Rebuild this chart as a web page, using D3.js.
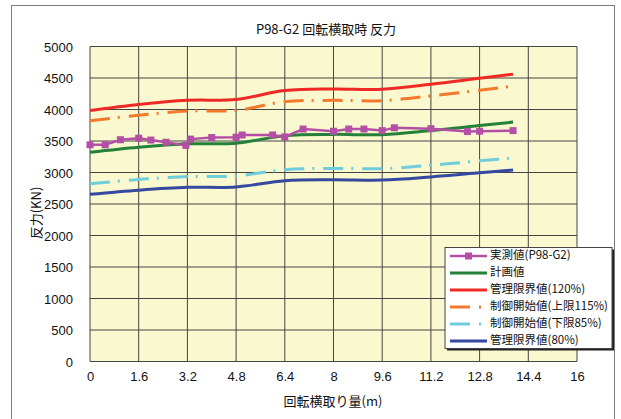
<!DOCTYPE html>
<html><head><meta charset="utf-8">
<script src="https://cdn.jsdelivr.net/npm/d3@7"></script>
<style>
html,body{margin:0;padding:0;background:#fff;overflow:hidden;}
svg{display:block;}
text{font-family:"Liberation Sans","Noto Sans CJK JP",sans-serif;fill:#111;}
.cjk{font-family:"Noto Sans CJK JP",sans-serif;}
</style></head>
<body>
<script>
// ---- data ----
const title = "P98-G2 回転横取時 反力";
const xTitle = "回転横取り量(m)";
const yTitle = "反力(KN)";
const xTicks = [0, 1.6, 3.2, 4.8, 6.4, 8, 9.6, 11.2, 12.8, 14.4, 16];
const yTicks = [0, 500, 1000, 1500, 2000, 2500, 3000, 3500, 4000, 4500, 5000];

const measX = [0, 0.5, 1.0, 1.6, 2.0, 2.5, 3.15, 3.3, 4.0, 4.8, 5.0, 6.0, 6.4, 7.0, 8.0, 8.5, 9.0, 9.6, 10.0, 11.2, 12.4, 12.8, 13.9];
const measY = [3440, 3440, 3520, 3545, 3515, 3480, 3430, 3530, 3555, 3560, 3595, 3595, 3565, 3690, 3655, 3690, 3690, 3665, 3710, 3695, 3650, 3655, 3665];

const planX = [0, 1.6, 3.2, 4.8, 6.4, 8.0, 9.6, 11.2, 12.8, 13.9];
const plan  = [3320, 3400, 3455, 3465, 3585, 3605, 3600, 3665, 3745, 3800];
const lim120 = [3985, 4080, 4145, 4160, 4300, 4325, 4320, 4400, 4495, 4560];
const ctl115 = [3820, 3910, 3975, 3985, 4125, 4145, 4140, 4215, 4305, 4370];
const ctl85  = [2820, 2890, 2935, 2945, 3045, 3065, 3060, 3115, 3185, 3230];
const lim80  = [2655, 2720, 2765, 2770, 2870, 2885, 2880, 2930, 2995, 3040];

const legendLabels = ["実測値(P98-G2)", "計画値", "管理限界値(120%)", "制御開始値(上限115%)", "制御開始値(下限85%)", "管理限界値(80%)"];

// ---- drawing ----
const W = 621, H = 419;
const svg = d3.select("body").append("svg").attr("width", W).attr("height", H);

// outer chart border
svg.append("rect").attr("x", 11.5).attr("y", 5.5).attr("width", 603).attr("height", 430)
  .attr("fill", "#fff").attr("stroke", "#7a7a7a").attr("stroke-width", 1);

const x = d3.scaleLinear().domain([0, 16]).range([90, 577]);
const y = d3.scaleLinear().domain([0, 5000]).range([361.5, 46.5]);

// plot background
svg.append("rect").attr("x", x(0)).attr("y", y(5000)).attr("width", x(16) - x(0)).attr("height", y(0) - y(5000))
  .attr("fill", "#f9f8cf");

// grid
const grid = svg.append("g");
grid.selectAll(".hg").data(yTicks).join("line")
  .attr("x1", x(0)).attr("x2", x(16)).attr("y1", d => y(d)).attr("y2", d => y(d))
  .attr("stroke", "#444").attr("stroke-width", 1);
grid.selectAll(".vg").data(xTicks).join("line")
  .attr("y1", y(0)).attr("y2", y(5000)).attr("x1", d => x(d)).attr("x2", d => x(d))
  .attr("stroke", "#444").attr("stroke-width", 1);

// axes (labels only)
const yAxis = d3.axisLeft(y).tickValues(yTicks).tickSize(0).tickPadding(0).tickFormat(d3.format("d"));
const gy = svg.append("g").attr("transform", `translate(${73},0)`).call(yAxis);
gy.select(".domain").remove();
gy.selectAll("text").attr("font-size", 13).attr("font-family", "Liberation Sans, sans-serif").attr("fill", "#111").attr("dy", "0.36em");

const xAxis = d3.axisBottom(x).tickValues(xTicks).tickSize(0).tickPadding(0).tickFormat(d => String(d));
const gx = svg.append("g").attr("transform", `translate(0,${372})`).call(xAxis);
gx.select(".domain").remove();
gx.selectAll("text").attr("font-size", 13).attr("font-family", "Liberation Sans, sans-serif").attr("fill", "#111").attr("dy", "0.71em");

// titles
svg.append("text").attr("class", "cjk").attr("x", 326).attr("y", 30).attr("text-anchor", "middle")
  .attr("dominant-baseline", "middle").attr("font-size", 13).text(title);
svg.append("text").attr("class", "cjk").attr("x", 333).attr("y", 402).attr("text-anchor", "middle")
  .attr("dominant-baseline", "middle").attr("font-size", 13).text(xTitle);
svg.append("text").attr("class", "cjk").attr("transform", "translate(37,213) rotate(-90)").attr("text-anchor", "middle")
  .attr("dominant-baseline", "middle").attr("font-size", 13).text(yTitle);

// series
const smooth = d3.line().x(d => x(d[0])).y(d => y(d[1])).curve(d3.curveCatmullRom.alpha(0.5));
const straight = d3.line().x(d => x(d[0])).y(d => y(d[1]));
const zipPlan = arr => planX.map((v, i) => [v, arr[i]]);

const series = [
  {vals: lim80, color: "#3649a0", dash: null},
  {vals: ctl85, color: "#70cddc", dash: "20,8,2,9"},
  {vals: plan, color: "#25803a", dash: null},
  {vals: ctl115, color: "#f4792a", dash: "20,8,2,9"},
  {vals: lim120, color: "#ef2a26", dash: null}
];
series.forEach(s => {
  svg.append("path").attr("d", smooth(zipPlan(s.vals))).attr("fill", "none")
    .attr("stroke", s.color).attr("stroke-width", 3).attr("stroke-dasharray", s.dash);
});

const meas = measX.map((v, i) => [v, measY[i]]);
const purple = "#b44fa6";
svg.append("path").attr("d", straight(meas)).attr("fill", "none").attr("stroke", purple).attr("stroke-width", 2.5);
svg.selectAll(".mk").data(meas).join("rect")
  .attr("x", d => x(d[0]) - 3.5).attr("y", d => y(d[1]) - 3.5).attr("width", 7).attr("height", 7).attr("fill", purple);

// legend
const lg = svg.append("g");
const lx = 445, ly = 247.5, lw = 167, lh = 101;
lg.append("rect").attr("x", lx + 2).attr("y", ly + 2).attr("width", lw).attr("height", lh).attr("fill", "#222");
lg.append("rect").attr("x", lx).attr("y", ly).attr("width", lw).attr("height", lh).attr("fill", "#fff").attr("stroke", "#444").attr("stroke-width", 1);
const legColors = [purple, "#25803a", "#ef2a26", "#f4792a", "#70cddc", "#3649a0"];
const legDash = [null, null, null, "20,9,2,20", "20,9,2,20", null];
legendLabels.forEach((t, i) => {
  const yy = 256 + i * 17;
  lg.append("line").attr("x1", 450).attr("x2", 487).attr("y1", yy).attr("y2", yy)
    .attr("stroke", legColors[i]).attr("stroke-width", i === 0 ? 2.5 : 3).attr("stroke-dasharray", legDash[i]);
  if (i === 0) lg.append("rect").attr("x", 465).attr("y", yy - 3.5).attr("width", 7).attr("height", 7).attr("fill", purple);
  lg.append("text").attr("class", "cjk").attr("x", 490).attr("y", yy).attr("dominant-baseline", "middle")
    .attr("font-size", 11.5).text(t);
});
</script>
</body></html>
